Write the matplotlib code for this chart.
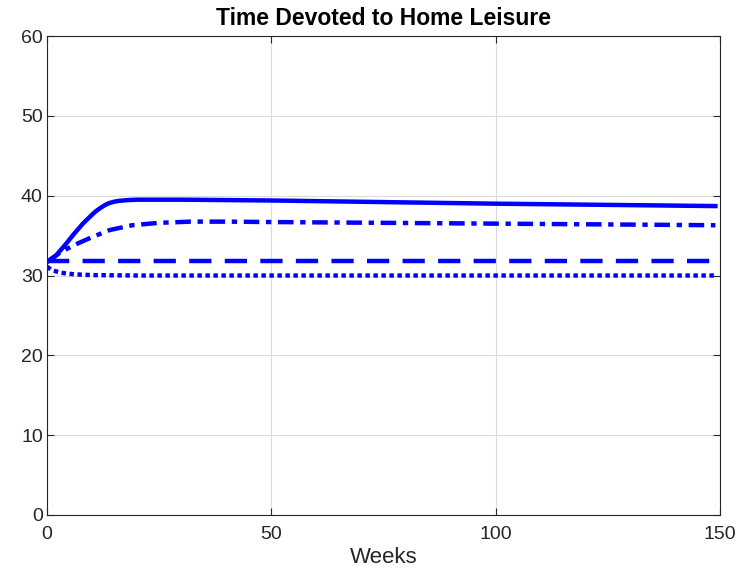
import matplotlib.pyplot as plt

plt.rcParams['font.family'] = ['Liberation Sans', 'DejaVu Sans']

# Weeks and values
weeks_solid = [0, 2, 4, 6, 8, 10, 11, 12, 13, 14, 15, 16, 18, 20, 30, 50, 75, 100, 125, 149]
home_solid = [31.7, 32.5, 33.8, 35.2, 36.5, 37.6, 38.1, 38.5, 38.85, 39.1, 39.25, 39.35,
              39.45, 39.5, 39.5, 39.4, 39.2, 39.0, 38.85, 38.7]

weeks_dashdot = [0, 3, 6, 10, 14, 19, 25, 32, 40, 50, 75, 100, 125, 149]
home_dashdot = [31.7, 32.9, 33.8, 34.8, 35.7, 36.3, 36.6, 36.75, 36.75, 36.7,
                36.6, 36.5, 36.4, 36.3]

weeks_dashed = [0, 149]
home_dashed = [31.8, 31.8]

weeks_dotted = [0, 1, 3, 6, 10, 20, 149]
home_dotted = [31.1, 30.7, 30.35, 30.15, 30.05, 30.0, 30.0]

fig = plt.figure(figsize=(7.53, 5.77), dpi=100)
ax = fig.add_axes([0.0624, 0.1075, 0.8936, 0.83])

blue = '#0000ff'
ax.plot(weeks_solid, home_solid, color=blue, lw=3.2, linestyle='-')
ax.plot(weeks_dashdot, home_dashdot, color=blue, lw=3.2, linestyle=(0, (3.5, 1.5, 1.2, 1.5)))
ax.plot(weeks_dashed, home_dashed, color=blue, lw=3.2, linestyle=(0, (5, 3)))
ax.plot(weeks_dotted, home_dotted, color=blue, lw=3.2, linestyle=(0, (1, 0.8)))

ax.set_xlim(0, 150)
ax.set_ylim(0, 60)
ax.set_xticks([0, 50, 100, 150])
ax.set_yticks(range(0, 61, 10))
ax.grid(True, color='#dcdcdc', lw=0.8)
ax.set_axisbelow(True)
ax.tick_params(direction='in', top=True, right=True, labelsize=14, colors='#262626', length=5)
ax.tick_params(axis='x', pad=8)
ax.tick_params(axis='y', pad=3)
for s in ax.spines.values():
    s.set_color('#262626')
    s.set_linewidth(0.8)

ax.set_xlabel('Weeks', fontsize=16, color='#262626', labelpad=3)
ax.set_title('Time Devoted to Home Leisure', fontsize=16.5, fontweight='bold', pad=8)

fig.savefig('out.png', dpi=100)
